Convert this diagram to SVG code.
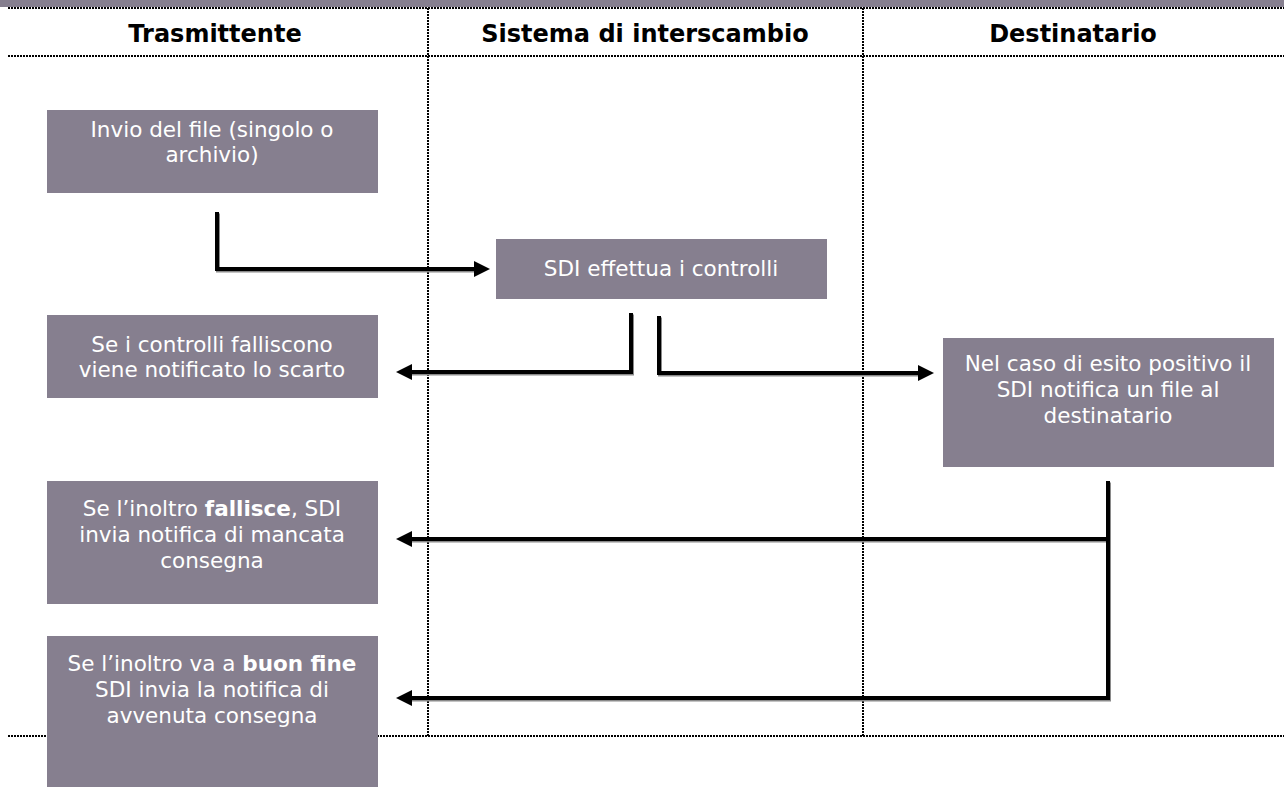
<svg xmlns="http://www.w3.org/2000/svg" width="1284" height="787" viewBox="0 0 1284 787">
<style>
.box{fill:#867f8f}
.bt{font-family:"DejaVu Sans","Verdana",sans-serif;font-size:21.5px;fill:#ffffff;text-anchor:middle}
.hd{font-family:"DejaVu Sans","Verdana",sans-serif;font-size:24px;font-weight:bold;fill:#000000;text-anchor:middle}
.dot{stroke:#000;stroke-width:2;stroke-dasharray:2 1;fill:none}
.conn{fill:none;stroke:#000;stroke-width:4;stroke-linejoin:miter}
.shadow{fill:none;stroke:#8a8a8a;stroke-width:4}
b{font-weight:bold}
</style>
<defs>
<marker id="ah" markerUnits="userSpaceOnUse" markerWidth="18" markerHeight="18" refX="6" refY="8" orient="auto">
<path d="M0,0 L16,8 L0,16 z" fill="#000"/>
</marker>
</defs>
<rect width="1284" height="787" fill="#ffffff"/>
<rect x="0" y="0" width="1284" height="7" fill="#867f8f"/>
<g id="grid">
<line class="dot" x1="8" y1="8" x2="1284" y2="8"/>
<line class="dot" x1="8" y1="56" x2="1284" y2="56"/>
<line class="dot" x1="8" y1="736" x2="1284" y2="736"/>
<line class="dot" x1="428" y1="8" x2="428" y2="736"/>
<line class="dot" x1="863" y1="8" x2="863" y2="736"/>
</g>
<g id="headers">
<text class="hd" x="215" y="42">Trasmittente</text>
<text class="hd" x="645" y="42">Sistema di interscambio</text>
<text class="hd" x="1073" y="42">Destinatario</text>
</g>
<g id="connectors">
<g transform="translate(1,1.5)">
<path class="shadow" d="M217,212 V269 H480"/>
<path class="shadow" d="M631,313 V372 H406"/>
<path class="shadow" d="M659,316 V373 H924"/>
<path class="shadow" d="M1108,481 V698 H406"/>
<path class="shadow" d="M1108,539 H406"/>
</g>
<path class="conn" d="M217,212 V269 H480" marker-end="url(#ah)"/>
<path class="conn" d="M631,313 V372 H406" marker-end="url(#ah)"/>
<path class="conn" d="M659,316 V373 H924" marker-end="url(#ah)"/>
<path class="conn" d="M1108,481 V698 H406" marker-end="url(#ah)"/>
<path class="conn" d="M1108,539 H406" marker-end="url(#ah)"/>
</g>
<g id="n1">
<rect class="box" x="47" y="110" width="331" height="83"/>
<text class="bt" x="212" y="137">Invio del file (singolo o</text>
<text class="bt" x="212" y="162">archivio)</text>
</g>
<g id="n2">
<rect class="box" x="496" y="239" width="331" height="60"/>
<text class="bt" x="661" y="276">SDI effettua i controlli</text>
</g>
<g id="n3">
<rect class="box" x="47" y="315" width="331" height="83"/>
<text class="bt" x="212" y="352">Se i controlli falliscono</text>
<text class="bt" x="212" y="377">viene notificato lo scarto</text>
</g>
<g id="n4">
<rect class="box" x="943" y="338" width="331" height="129"/>
<text class="bt" x="1108" y="371">Nel caso di esito positivo il</text>
<text class="bt" x="1108" y="397">SDI notifica un file al</text>
<text class="bt" x="1108" y="423">destinatario</text>
</g>
<g id="n5">
<rect class="box" x="47" y="481" width="331" height="123"/>
<text class="bt" x="212" y="516">Se l’inoltro <tspan font-weight="bold">fallisce</tspan>, SDI</text>
<text class="bt" x="212" y="542">invia notifica di mancata</text>
<text class="bt" x="212" y="568">consegna</text>
</g>
<g id="n6">
<rect class="box" x="47" y="636" width="331" height="151"/>
<text class="bt" x="212" y="671">Se l’inoltro va a <tspan font-weight="bold">buon fine</tspan></text>
<text class="bt" x="212" y="697">SDI invia la notifica di</text>
<text class="bt" x="212" y="723">avvenuta consegna</text>
</g>
</svg>
